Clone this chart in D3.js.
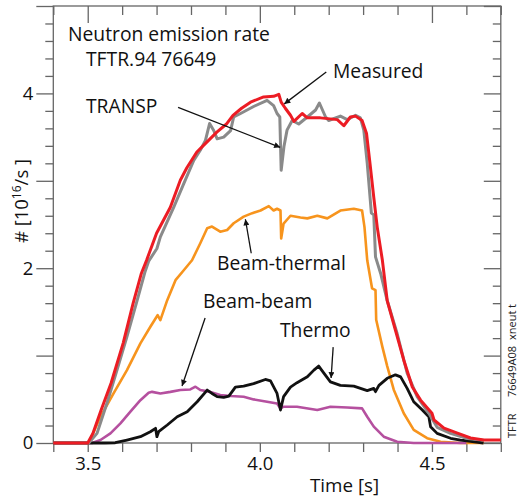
<!DOCTYPE html>
<html><head><meta charset="utf-8">
<script src="https://cdn.jsdelivr.net/npm/d3@7"></script>
<style>
html,body{margin:0;padding:0;background:#fff;}
svg{display:block;font-family:"Open Sans",sans-serif;}
</style></head>
<body><svg id="c" width="518" height="500"></svg>
<script>
// ---- data (time [s], rate [10^16/s]) ----
const measuredT = [3.40,3.50,3.515,3.539,3.568,3.603,3.632,3.656,3.671,3.700,3.740,3.769,3.788,3.817,3.846,3.875,3.904,3.922,3.947,3.973,4.011,4.040,4.055,4.062,4.074,4.089,4.099,4.123,4.138,4.176,4.225,4.244,4.263,4.278,4.297,4.310,4.320,4.331,4.341,4.356,4.370,4.394,4.418,4.443,4.467,4.500,4.506,4.535,4.574,4.612,4.651,4.700];
const measuredV = [0,0,0.11,0.377,0.686,1.143,1.60,1.943,2.091,2.40,2.697,3.006,3.15,3.33,3.443,3.557,3.653,3.749,3.83,3.90,3.96,3.966,3.99,3.90,3.83,3.75,3.68,3.77,3.72,3.72,3.70,3.63,3.73,3.74,3.69,3.54,3.20,2.81,2.47,2.09,1.63,1.29,0.95,0.64,0.49,0.34,0.263,0.171,0.114,0.057,0.034,0.034];

const transpT = [3.40,3.503,3.527,3.556,3.585,3.614,3.643,3.667,3.677,3.701,3.711,3.750,3.779,3.808,3.827,3.842,3.854,3.866,3.876,3.895,3.915,3.924,3.944,3.982,4.021,4.040,4.050,4.058,4.062,4.070,4.079,4.094,4.113,4.138,4.162,4.173,4.191,4.200,4.234,4.254,4.278,4.292,4.302,4.312,4.324,4.331,4.336,4.351,4.370,4.399,4.428,4.457,4.491,4.515,4.554,4.603,4.651];
const transpV = [0,0,0.11,0.457,0.834,1.217,1.623,1.966,2.08,2.226,2.358,2.699,2.968,3.234,3.349,3.463,3.655,3.575,3.48,3.50,3.575,3.73,3.77,3.85,3.92,3.86,3.77,3.73,3.12,3.39,3.58,3.69,3.65,3.73,3.81,3.89,3.73,3.69,3.74,3.70,3.75,3.72,3.58,3.20,2.63,2.61,2.13,1.94,1.63,1.25,0.80,0.53,0.34,0.18,0.11,0.05,0.03];

const beamThermalT = [3.40,3.503,3.537,3.575,3.614,3.653,3.682,3.697,3.703,3.711,3.731,3.755,3.779,3.803,3.827,3.847,3.861,3.885,3.905,3.924,3.953,3.978,4.002,4.026,4.040,4.050,4.060,4.062,4.069,4.089,4.118,4.138,4.167,4.196,4.234,4.273,4.297,4.304,4.312,4.326,4.336,4.338,4.356,4.370,4.389,4.418,4.447,4.486,4.525,4.583,4.650];
const beamThermalV = [0,0,0.30,0.567,0.834,1.139,1.33,1.425,1.463,1.406,1.634,1.863,1.977,2.091,2.286,2.457,2.476,2.418,2.437,2.514,2.59,2.63,2.66,2.71,2.66,2.68,2.66,2.34,2.51,2.60,2.58,2.57,2.60,2.57,2.66,2.68,2.66,2.47,2.09,1.77,1.75,1.41,1.10,0.88,0.61,0.34,0.15,0.055,0.015,0,0];

const beamBeamT = [3.40,3.513,3.537,3.566,3.595,3.624,3.653,3.677,3.687,3.711,3.740,3.769,3.798,3.813,3.827,3.856,3.885,3.915,3.953,3.982,4.021,4.050,4.060,4.069,4.108,4.167,4.205,4.254,4.297,4.312,4.331,4.360,4.399,4.447,4.600];
const beamBeamV = [0,0,0.034,0.11,0.225,0.358,0.49,0.574,0.585,0.567,0.585,0.606,0.613,0.644,0.606,0.585,0.548,0.537,0.529,0.499,0.472,0.453,0.396,0.415,0.415,0.377,0.415,0.407,0.396,0.30,0.187,0.072,0.015,0,0];

const thermoT = [3.40,3.55,3.580,3.614,3.653,3.682,3.697,3.701,3.706,3.731,3.760,3.789,3.818,3.847,3.861,3.876,3.895,3.910,3.929,3.953,3.982,4.016,4.031,4.050,4.060,4.069,4.089,4.108,4.138,4.157,4.171,4.186,4.205,4.234,4.273,4.312,4.331,4.336,4.346,4.370,4.394,4.409,4.428,4.447,4.472,4.491,4.496,4.515,4.554,4.583,4.612,4.650];
const thermoV = [0,0,0.003,0.034,0.072,0.129,0.168,0.072,0.129,0.206,0.30,0.358,0.472,0.606,0.567,0.530,0.522,0.537,0.64,0.65,0.68,0.727,0.71,0.567,0.377,0.530,0.64,0.69,0.757,0.834,0.88,0.80,0.70,0.66,0.65,0.60,0.625,0.587,0.66,0.74,0.78,0.757,0.625,0.472,0.377,0.30,0.187,0.11,0.054,0.034,0.02,0];

const xTickLabels = [3.5, 4.0, 4.5];
const yTickLabels = [0, 2, 4];

// ---- layout ----
const svg = d3.select("#c");
const L = 53.3, R = 500.8, T = 6, B = 443;
const x = d3.scaleLinear().domain([3.4, 4.7]).range([L, R]);
const y = d3.scaleLinear().domain([0, 5]).range([B, T]);
const axisColor = "#666";

// frame
svg.append("rect").attr("x", L).attr("y", T).attr("width", R - L).attr("height", B - T)
  .attr("fill", "none").attr("stroke", axisColor).attr("stroke-width", 1.3);

const xMinor = d3.range(34, 48).map(d => d / 10);
const yMinor = d3.range(0, 26).map(d => d / 5);
const isInt = v => Math.abs(v - Math.round(v)) < 1e-6;
const isHalf = v => Math.abs(v * 2 - Math.round(v * 2)) < 1e-6;

// bottom axis (ticks outward)
const gb = svg.append("g").attr("transform", `translate(0,${B})`)
  .call(d3.axisBottom(x).tickValues(xMinor).tickSize(9).tickFormat(d => xTickLabels.some(v => Math.abs(v - d) < 1e-6) ? d3.format(".1f")(d) : ""));
// top axis (ticks inward)
const gt = svg.append("g").attr("transform", `translate(0,${T})`)
  .call(d3.axisBottom(x).tickValues(xMinor).tickSizeInner(0).tickSizeOuter(0).tickFormat(""));
gt.selectAll(".tick line").attr("y2", d => isHalf(d) ? 17 : 9);
// left axis (ticks outward)
const gl = svg.append("g").attr("transform", `translate(${L},0)`)
  .call(d3.axisLeft(y).tickValues(yMinor).tickSizeOuter(0).tickSize(8).tickFormat(d => yTickLabels.includes(Math.round(d*1000)/1000) ? d3.format("d")(d) : ""));
gl.selectAll(".tick line").attr("x2", d => isInt(d) ? -17 : -8);
gl.selectAll(".tick text").attr("x", -20);
// right axis (ticks inward)
const gr = svg.append("g").attr("transform", `translate(${R},0)`)
  .call(d3.axisLeft(y).tickValues(yMinor).tickSizeOuter(0).tickSize(8).tickFormat(""));
gr.selectAll(".tick line").attr("x2", d => isInt(d) ? -17 : -8);

[gb, gt, gl, gr].forEach(g => {
  g.select(".domain").remove();
  g.selectAll(".tick line").attr("stroke", axisColor).attr("stroke-width", 1.3);
  g.selectAll(".tick text").attr("fill", "#111").style("font-family", '"Open Sans",sans-serif').style("font-size", "18.5px");
});
gb.selectAll(".tick text").attr("y", 14);

// curves
const line = d3.line().x(d => x(d[0])).y(d => y(d[1]));
const series = [
  {t: beamThermalT, v: beamThermalV, c: "#f7941d", w: 2.6},
  {t: beamBeamT, v: beamBeamV, c: "#b5509f", w: 2.6},
  {t: thermoT, v: thermoV, c: "#111111", w: 2.8},
  {t: transpT, v: transpV, c: "#8a8a8a", w: 3},
  {t: measuredT, v: measuredV, c: "#ec1c24", w: 3},
];
series.forEach(s => {
  svg.append("path").datum(s.t.map((t, i) => [t, s.v[i]]))
    .attr("d", line).attr("fill", "none").attr("stroke", s.c)
    .attr("stroke-width", s.w).attr("stroke-linejoin", "round");
});

// arrow marker
svg.append("defs").append("marker").attr("id", "ah")
  .attr("viewBox", "0 0 10 10").attr("refX", 10).attr("refY", 5)
  .attr("markerUnits", "userSpaceOnUse").attr("markerWidth", 10).attr("markerHeight", 6)
  .attr("orient", "auto")
  .append("path").attr("d", "M0,0 L10,5 L0,10 Z").attr("fill", "#111");

const arrows = [
  {from: [3.7625, 3.84], to: [4.059, 3.383]},   // TRANSP
  {from: [4.193, 4.245], to: [4.071, 3.88]},    // Measured
  {from: [3.975, 2.171], to: [3.958, 2.56]},    // Beam-thermal
  {from: [3.841, 1.43], to: [3.774, 0.652]},    // Beam-beam
  {from: [4.213, 1.097], to: [4.207, 0.743]},   // Thermo
];
arrows.forEach(a => {
  svg.append("line").attr("x1", x(a.from[0])).attr("y1", y(a.from[1]))
    .attr("x2", x(a.to[0])).attr("y2", y(a.to[1]))
    .attr("stroke", "#111").attr("stroke-width", 1.3).attr("marker-end", "url(#ah)");
});

// labels
const txt = (s, px, py, size, anchor) => svg.append("text").attr("x", px).attr("y", py)
  .attr("font-size", size).attr("fill", "#111").attr("text-anchor", anchor || "start").text(s);
txt("Neutron emission rate", 68, 41, 19.3);
txt("TFTR.94 76649", 86, 65.5, 19.3);
txt("TRANSP", 86, 112.5, 19.3);
txt("Measured", 333, 78, 19.3);
txt("Beam-thermal", 217, 270, 19.3);
txt("Beam-beam", 203, 308, 19.3);
txt("Thermo", 280, 336.5, 19.3);
txt("Time [s]", 310, 491.5, 18.8);

// y-axis label
const yl = svg.append("text").attr("transform", "translate(28,201) rotate(-90)")
  .attr("text-anchor", "middle").attr("font-size", 18.5).attr("fill", "#111");
yl.append("tspan").text("# [10");
yl.append("tspan").attr("dy", -7).attr("font-size", 12).text("16");
yl.append("tspan").attr("dy", 7).text("/s ]");

// right side id text
[["TFTR", 438], ["76649A08", 397], ["xneut", 340], ["t", 308]].forEach(p => {
  svg.append("text").attr("transform", `translate(516,${p[1]}) rotate(-90)`)
    .attr("font-size", 11).attr("fill", "#222").text(p[0]);
});
</script>
</body></html>
